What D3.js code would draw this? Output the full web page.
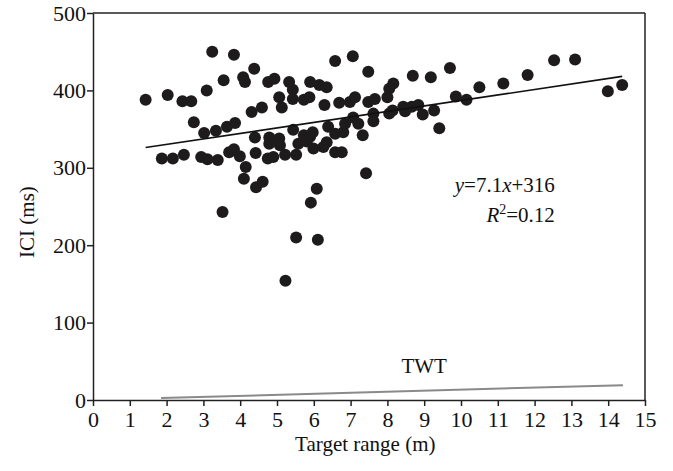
<!DOCTYPE html>
<html>
<head>
<script src="https://d3js.org/d3.v7.min.js"></script>
<style>
  body { margin: 0; padding: 0; background: #fff; }
  text { font-family: "Liberation Serif", "Times New Roman", serif; fill: #111; }
</style>
</head>
<body>
<script>
// target range (m) of each click train
var rangeM = [1.43, 2.03, 1.87, 2.17, 2.47, 2.43, 2.67, 2.74, 2.94, 3.11,
  3.02, 3.09, 3.24, 3.34, 3.39, 3.55, 3.52, 3.64, 3.70, 3.83,
  3.86, 3.83, 3.99, 4.08, 4.13, 4.15, 4.10, 4.38, 4.31, 4.40,
  4.42, 4.43, 4.61, 4.59, 4.76, 4.93, 4.79, 4.79, 4.75, 4.90,
  5.06, 5.13, 5.06, 5.08, 5.22, 5.33, 5.43, 5.43, 5.44, 5.52,
  5.58, 5.73, 5.88, 5.90, 5.73, 5.90, 5.97, 5.99, 5.81, 5.92,
  6.08, 6.15, 6.35, 6.29, 6.39, 6.35, 6.26, 6.58, 6.58, 6.58,
  6.76, 6.69, 6.80, 6.85, 6.98, 7.06, 7.12, 7.07, 7.21, 7.33,
  7.42, 7.48, 7.48, 7.66, 7.62, 7.62, 5.52, 6.11, 5.23, 8.69,
  9.18, 9.70, 8.16, 8.05, 8.00, 9.86, 8.05, 8.14, 8.43, 8.48,
  8.66, 8.84, 8.96, 9.27, 9.41, 10.15, 10.50, 11.15, 11.81, 12.53,
  13.10, 13.99, 14.38];

// inter-click interval (ms)
var iciMs = [388, 394, 312, 312, 317, 386, 386, 359, 314, 311,
  345, 400, 450, 348, 310, 413, 243, 353, 320, 446,
  358, 324, 315, 417, 411, 301, 286, 428, 372, 339,
  319, 275, 282, 378, 411, 415, 339, 331, 312, 314,
  391, 378, 338, 329, 317, 411, 401, 389, 349, 317,
  331, 388, 391, 411, 342, 340, 346, 325, 334, 255,
  273, 407, 404, 381, 353, 333, 327, 438, 344, 320,
  320, 384, 346, 357, 385, 444, 391, 365, 357, 342,
  293, 424, 385, 389, 370, 360, 210, 207, 154, 419,
  417, 429, 409, 402, 391, 392, 370, 374, 379, 373,
  379, 381, 369, 374, 351, 388, 404, 409, 420, 439,
  440, 399, 407];

// linear fit y = 7.1x + 316
var fitSlope = 7.1, fitIntercept = 316;
// two-way travel time line (ms) at the ends of the range
var twtRange = [1.85, 14.4];
var twtMs = [2.5, 19.2];

var xTicks = d3.range(0, 16, 1);
var yTicks = [0, 100, 200, 300, 400, 500];

var width = 673, height = 471;
var margin = {top: 13, right: 28, bottom: 71, left: 93};
var w = width - margin.left - margin.right,
    h = height - margin.top - margin.bottom;

var svg = d3.select("body").append("svg")
    .attr("width", width)
    .attr("height", height);

var g = svg.append("g")
    .attr("transform", "translate(" + margin.left + "," + margin.top + ")");

var x = d3.scaleLinear().domain([0, 15]).range([0, w]);
var y = d3.scaleLinear().domain([0, 500]).range([h, 0]);

// frame (top and right)
g.append("line").attr("x1", 0).attr("x2", w).attr("y1", 0).attr("y2", 0)
    .attr("stroke", "#222").attr("stroke-width", 1.5);
g.append("line").attr("x1", w).attr("x2", w).attr("y1", 0).attr("y2", h)
    .attr("stroke", "#222").attr("stroke-width", 1.5);

var xAxis = g.append("g")
    .attr("transform", "translate(0," + h + ")")
    .call(d3.axisBottom(x).tickValues(xTicks).tickSize(6).tickPadding(5).tickSizeOuter(0));
var yAxis = g.append("g")
    .call(d3.axisLeft(y).tickValues(yTicks).tickSize(6).tickPadding(1).tickSizeOuter(0));

[xAxis, yAxis].forEach(function(a) {
  a.select(".domain").attr("stroke", "#222").attr("stroke-width", 1.5);
  a.selectAll(".tick line").attr("stroke", "#222").attr("stroke-width", 1.5);
  a.selectAll(".tick text")
    .style("font-family", '"Liberation Serif", serif')
    .style("font-size", "22px")
    .attr("fill", "#111");
});

// TWT line
g.append("line")
    .attr("x1", x(twtRange[0])).attr("y1", y(twtMs[0]))
    .attr("x2", x(twtRange[1])).attr("y2", y(twtMs[1]))
    .attr("stroke", "#8a8a8a").attr("stroke-width", 2);

g.append("text")
    .attr("x", x(9.0)).attr("y", y(35))
    .attr("text-anchor", "middle")
    .style("font-size", "21px")
    .text("TWT");

// points
g.selectAll(".dot")
    .data(rangeM.map(function(d, i) { return {r: d, t: iciMs[i]}; }))
  .enter().append("circle")
    .attr("class", "dot")
    .attr("cx", function(d) { return x(d.r); })
    .attr("cy", function(d) { return y(d.t); })
    .attr("r", 6)
    .attr("fill", "#1e1b1c");

// regression line over the data range
var xmin = d3.min(rangeM), xmax = d3.max(rangeM);
g.append("line")
    .attr("x1", x(xmin)).attr("y1", y(fitSlope * xmin + fitIntercept))
    .attr("x2", x(xmax)).attr("y2", y(fitSlope * xmax + fitIntercept))
    .attr("stroke", "#111").attr("stroke-width", 1.6);

// equation
var eq = g.append("text")
    .attr("x", x(12.55)).attr("y", y(269))
    .attr("text-anchor", "end")
    .style("font-size", "21px");
eq.append("tspan").style("font-style", "italic").text("y");
eq.append("tspan").text("=7.1");
eq.append("tspan").style("font-style", "italic").text("x");
eq.append("tspan").text("+316");

var r2 = g.append("text")
    .attr("x", x(12.55)).attr("y", y(230))
    .attr("text-anchor", "end")
    .style("font-size", "21px");
r2.append("tspan").style("font-style", "italic").text("R");
r2.append("tspan").attr("dy", -8).style("font-size", "14px").text("2");
r2.append("tspan").attr("dy", 8).text("=0.12");

// axis titles
svg.append("text")
    .attr("x", margin.left + x(7.4))
    .attr("y", 451)
    .attr("text-anchor", "middle")
    .style("font-size", "21px")
    .text("Target range (m)");

svg.append("text")
    .attr("transform", "translate(34," + 222 + ")rotate(-90)")
    .attr("text-anchor", "middle")
    .style("font-size", "21px")
    .text("ICI (ms)");
</script>
</body>
</html>
